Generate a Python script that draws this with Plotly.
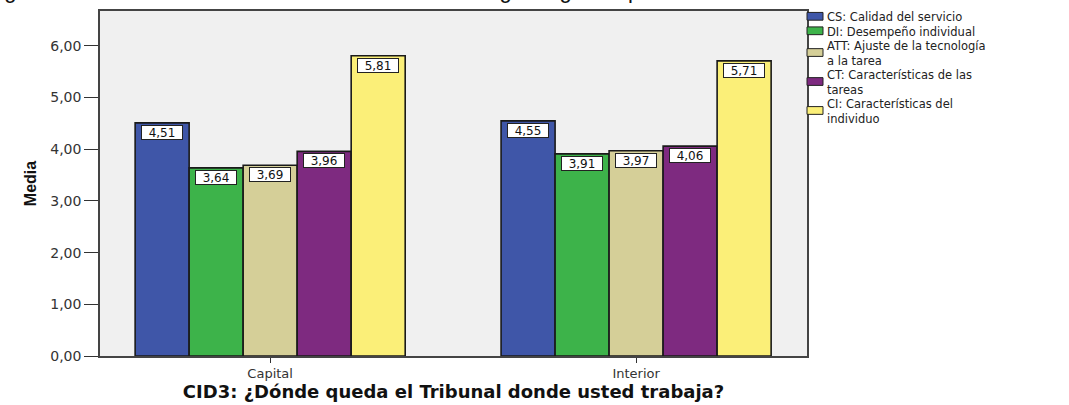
import plotly.graph_objects as go

# Data
categories = ["Capital", "Interior"]
series_names = [
    "CS: Calidad del servicio",
    "DI: Desempeño individual",
    "ATT: Ajuste de la tecnología<br>a la tarea",
    "CT: Características de las<br>tareas",
    "CI: Características del<br>individuo",
]
cs = [4.51, 4.55]
di = [3.64, 3.91]
att = [3.69, 3.97]
ct = [3.96, 4.06]
ci = [5.81, 5.71]
y_ticks = [0, 1, 2, 3, 4, 5, 6]
y_tick_labels = ["0,00", "1,00", "2,00", "3,00", "4,00", "5,00", "6,00"]

series_values = [cs, di, att, ct, ci]
colors = ["#3f56a8", "#3db34a", "#d5cf98", "#7e2a80", "#fbef78"]

W, H = 1069, 405
ML, MR, MT, MB = 100, 262, 9, 40
bargap = 0.262
n = len(series_values)
w = (1 - bargap) / n


def px_x(px):
    return (px - ML) / (W - ML - MR)


def px_y(py):
    return (H - MB - py) / (H - MT - MB)


fig = go.Figure()
for name, vals, col in zip(series_names, series_values, colors):
    fig.add_trace(go.Bar(
        x=categories, y=vals, name=name.replace("<br>", " "),
        marker_color=col,
        marker_line=dict(color="#1a1a1a", width=1.6),
    ))

# value labels in white boxes
for j, vals in enumerate(series_values):
    for i, v in enumerate(vals):
        fig.add_annotation(
            x=i + (j - (n - 1) / 2) * w, y=v, xref="x", yref="y",
            text=f"{v:.2f}".replace(".", ","),
            showarrow=False, yanchor="top", yshift=-2,
            width=38, height=11,
            font=dict(family="DejaVu Sans", size=12, color="#111"),
            bgcolor="white", bordercolor="#222", borderwidth=1, borderpad=1,
        )

# legend drawn by hand (tight SPSS-style spacing)
fs = 11.5
line_h = fs * 1.3
top = 7
for name, col in zip(series_names, colors):
    nl = len(name.split("<br>"))
    yc = top + line_h * nl / 2
    fig.add_shape(type="rect", xref="paper", yref="paper",
                  x0=px_x(807), x1=px_x(823), y0=px_y(yc - 4), y1=px_y(yc + 4),
                  fillcolor=col, line=dict(color="#222", width=1))
    fig.add_annotation(
        xref="paper", yref="paper", x=px_x(826), y=px_y(top),
        xanchor="left", yanchor="top", align="left", text=name, showarrow=False,
        font=dict(family="DejaVu Sans", size=fs, color="#222"), borderpad=0,
    )
    top += line_h * nl

# cropped caption at the very top
fig.add_annotation(
    xref="paper", yref="paper", x=0, y=1, xanchor="left", yanchor="bottom",
    xshift=-116, yshift=6,
    text="Figura 10: Medias de las dimensiones del modelo según lugar de prestación del servicio",
    showarrow=False, font=dict(family="Liberation Sans", size=22, color="#111"),
)

fig.update_layout(
    width=W, height=H,
    margin=dict(l=ML, r=MR, t=MT, b=MB),
    paper_bgcolor="white", plot_bgcolor="#f0f0f0",
    barmode="group", bargap=bargap, bargroupgap=0,
    font=dict(family="DejaVu Sans", color="#333"),
    showlegend=False,
)
fig.update_xaxes(
    range=[-0.465, 1.467], showline=True, mirror=True, linecolor="#444", linewidth=1.6,
    ticks="outside", ticklen=5, tickcolor="#333", tickfont=dict(size=13, color="#333"),
    title=dict(text="CID3: ¿Dónde queda el Tribunal donde usted trabaja?", standoff=2,
               font=dict(family="DejaVu Sans", size=18, color="#111", weight="bold")),
)
fig.update_yaxes(
    range=[0, 6.675], showline=True, mirror=True, linecolor="#444", linewidth=1.6,
    showgrid=False, zeroline=False,
    tickvals=y_ticks, ticktext=y_tick_labels,
    ticks="outside", ticklen=14, tickcolor="#333", tickfont=dict(size=14, color="#333"),
    title=dict(text="Media", standoff=10,
               font=dict(family="Liberation Sans Narrow, Liberation Sans", size=16, color="#111", weight="bold")),
)

fig.write_html("out.html", config={"displayModeBar": False},
               post_script="document.body.style.margin='0';")
